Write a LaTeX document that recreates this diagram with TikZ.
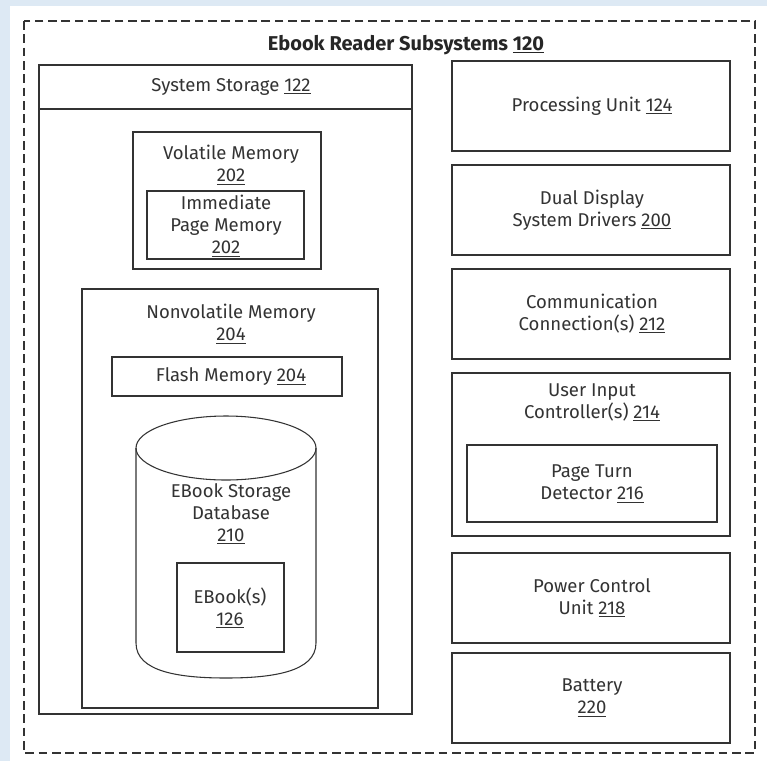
\documentclass[tikz,border=0pt]{standalone}
\usepackage{fontspec}
\setmainfont{Fira Sans}
\usetikzlibrary{calc}

\definecolor{bgblue}{HTML}{DDE9F4}
\definecolor{ink}{HTML}{333333}
\newcommand{\refnum}[1]{\underline{#1}}

\begin{document}
\begin{tikzpicture}[x=0.75pt, y=-0.75pt,
    every node/.style={font=\fontsize{13.9}{16.5}\selectfont, text=ink, align=center, inner sep=0pt},
    box/.style={draw=ink, line width=0.8pt}]
  % --- background and frame ---
  \fill[bgblue] (0,0) rectangle (767,761);
  \fill[white] (10,6) rectangle (767,761);
  \useasboundingbox (0,0) rectangle (767,761);
  \draw[ink, line width=1.3pt, dash pattern=on 6.5pt off 3.5pt] (24,21) rectangle (755,753);
  \node[font=\bfseries\fontsize{15}{16}\selectfont, text=black!85, anchor=base] (title) at (406,50)
    {Ebook Reader Subsystems \refnum{120}};

  % --- system storage (left column) ---
  \draw[box] (39,65) rectangle (412,714);
  \draw[box] (39,109) -- (412,109);
  \node[anchor=base] (storage) at (231,91) {System Storage \refnum{122}};

  % volatile memory
  \draw[box] (133,132) rectangle (321,269);
  \node (volatile) at (231,165) {Volatile Memory\\\refnum{202}};
  \draw[box] (147,191) rectangle (304,259);
  \node (immediate) at (226,226) {Immediate\\Page Memory\\\refnum{202}};

  % nonvolatile memory
  \draw[box] (82,289) rectangle (378,708);
  \node (nonvolatile) at (231,324) {Nonvolatile Memory\\\refnum{204}};
  \draw[box] (112,357) rectangle (342,396);
  \node (flash) at (231,377) {Flash Memory \refnum{204}};

  % --- database cylinder ---
  \draw[box] (226,448) ellipse [x radius=67.5pt, y radius=24pt];
  \draw[box] (136,448) -- (136,643)
    .. controls (136,672) and (180,678) .. (226,678)
    .. controls (272,678) and (316,672) .. (316,643) -- (316,448);
  \node (database) at (231,514) {EBook Storage\\Database\\\refnum{210}};
  \draw[box] (177,563) rectangle (284,652);
  \node (ebooks) at (230,608) {EBook(s)\\\refnum{126}};

  % --- right column ---
  \foreach \nm/\ya/\yb/\txt in {proc/61/151/{Processing Unit \refnum{124}},
      dual/165/255/{Dual Display\\System Drivers \refnum{200}},
      comm/269/359/{Communication\\Connection(s) \refnum{212}},
      power/553/643/{Power Control\\Unit \refnum{218}},
      battery/653/743/{Battery\\\refnum{220}}} {
    \draw[box] (452,\ya) rectangle (730,\yb);
    \node (\nm) at (592,{(\ya+\yb)/2}) {\txt};
  }

  % user input with page turn detector
  \draw[box] (452,373) rectangle (730,536);
  \node (userinput) at (592,402) {User Input\\Controller(s) \refnum{214}};
  \draw[box] (467,445) rectangle (717,522);
  \node (pageturn) at (592,484) {Page Turn\\Detector \refnum{216}};
\end{tikzpicture}
\end{document}
